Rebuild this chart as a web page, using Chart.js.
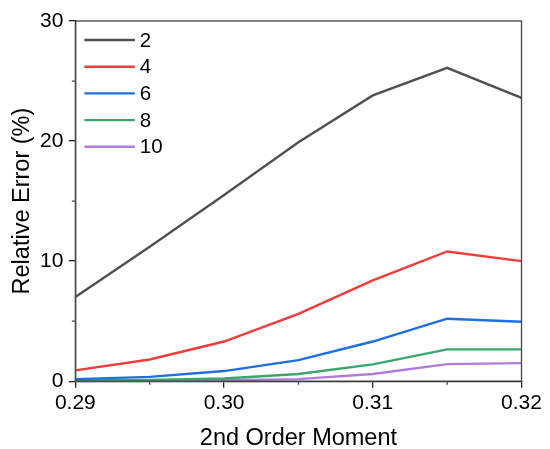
<!DOCTYPE html>
<html>
<head>
<meta charset="utf-8">
<script src="https://cdn.jsdelivr.net/npm/chart.js@4"></script>
<style>
  html, body { margin: 0; padding: 0; background: #fff; }
  #wrap { width: 550px; height: 449px; position: relative; }
</style>
</head>
<body>
<div id="wrap"><canvas id="myChart"></canvas></div>
<script>
const moments = [0.29, 0.295, 0.30, 0.305, 0.31, 0.315, 0.32];
const err2  = [7.0, 11.2, 15.5, 19.9, 23.8, 26.1, 23.6];
const err4  = [0.9, 1.8, 3.3, 5.6, 8.4, 10.8, 10.0];
const err6  = [0.17, 0.36, 0.84, 1.75, 3.3, 5.2, 4.95];
const err8  = [0.05, 0.1, 0.22, 0.6, 1.4, 2.65, 2.65];
const err10 = [0.01, 0.02, 0.08, 0.17, 0.6, 1.42, 1.5];
const seriesLabels = ['2', '4', '6', '8', '10'];
const colors = ['#505050', '#f23c3c', '#1f6fe0', '#3aa66a', '#b07ce0'];
const minorX = [0.295, 0.305, 0.315];
const minorY = [5, 15, 25];

const font = "'Liberation Sans', Arial, sans-serif";
const allSeries = [err2, err4, err6, err8, err10];

const datasets = allSeries.map((vals, i) => ({
  label: seriesLabels[i],
  data: vals.map((v, j) => ({ x: moments[j], y: v })),
  borderColor: colors[i],
  backgroundColor: colors[i],
  borderWidth: 2.4,
  pointRadius: 0,
  tension: 0,
  clip: false
}));

// frame, minor ticks and inside legend
const extras = {
  id: 'extras',
  afterDraw(chart) {
    const c = chart.ctx, a = chart.chartArea;
    const xs = chart.scales.x, ys = chart.scales.y;
    c.save();
    c.strokeStyle = '#444';
    c.lineWidth = 1.3;
    c.strokeRect(a.left, a.top, a.right - a.left, a.bottom - a.top);
    c.beginPath();
    minorX.forEach(v => {
      const px = xs.getPixelForValue(v);
      c.moveTo(px, a.bottom); c.lineTo(px, a.bottom + 3.5);
    });
    minorY.forEach(v => {
      const py = ys.getPixelForValue(v);
      c.moveTo(a.left, py); c.lineTo(a.left - 3.5, py);
    });
    c.stroke();

    c.font = '20.5px ' + font;
    c.textBaseline = 'middle';
    chart.data.datasets.forEach((ds, i) => {
      const y = a.top + 19 + i * 26.7;
      c.strokeStyle = ds.borderColor;
      c.lineWidth = 2.4;
      c.beginPath();
      c.moveTo(a.left + 9, y); c.lineTo(a.left + 59.5, y);
      c.stroke();
      c.fillStyle = '#000';
      c.fillText(ds.label, a.left + 64.5, y + 1);
    });
    c.restore();
  }
};

new Chart(document.getElementById('myChart'), {
  type: 'line',
  data: { datasets },
  options: {
    responsive: true,
    maintainAspectRatio: false,
    animation: false,
    layout: { padding: { top: 21, right: 28.5, left: 11, bottom: 0 } },
    plugins: { legend: { display: false }, tooltip: { enabled: false } },
    scales: {
      x: {
        type: 'linear',
        min: 0.29, max: 0.32,
        border: { color: '#222', width: 1.3 },
        grid: { drawOnChartArea: false, tickLength: 6.5, color: '#222', lineWidth: 1.3 },
        ticks: {
          stepSize: 0.01,
          color: '#000',
          font: { family: font, size: 21 },
          padding: 3,
          maxRotation: 0,
          callback: v => v.toFixed(2)
        },
        title: {
          display: true, text: '2nd Order Moment', color: '#000',
          font: { family: font, size: 23.5, lineHeight: 0.9 }, padding: { top: 9, bottom: 0 }
        }
      },
      y: {
        min: 0, max: 30,
        border: { color: '#222', width: 1.3 },
        grid: { drawOnChartArea: false, tickLength: 6.5, color: '#222', lineWidth: 1.3 },
        ticks: {
          stepSize: 10,
          color: '#000',
          font: { family: font, size: 21 },
          padding: 5.5
        },
        title: {
          display: true, text: 'Relative Error (%)', color: '#000',
          font: { family: font, size: 23.5, lineHeight: 1 }, padding: { top: 0, bottom: 0 }
        }
      }
    }
  },
  plugins: [extras]
});
</script>
</body>
</html>
